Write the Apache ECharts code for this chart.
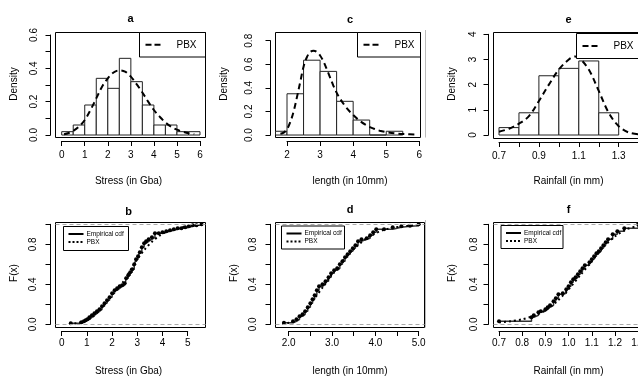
<!DOCTYPE html>
<html><head><meta charset="utf-8">
<script src="https://cdn.jsdelivr.net/npm/echarts@6/dist/echarts.min.js"></script>
<style>html,body{margin:0;padding:0;background:#fff}#c{width:638px;height:379px}</style>
</head><body><div id="c"></div>
<script>
// ---------------- data ----------------
// panel a : Stress histogram + PBX density
const aBinEdges = [0,0.5,1,1.5,2,2.5,3,3.5,4,4.5,5,5.5,6];
const aDensity  = [0.02,0.06,0.18,0.34,0.28,0.46,0.32,0.18,0.06,0.06,0.02,0.02];
const aCurveX = [0.1,0.3,0.5,0.75,1.0,1.25,1.5,1.75,2.0,2.25,2.5,2.75,3.0,3.25,3.5,3.75,4.0,4.25,4.5,4.75,5.0,5.25,5.5,5.75];
const aCurveY = [0.004,0.012,0.025,0.05,0.09,0.15,0.22,0.29,0.34,0.375,0.388,0.38,0.35,0.305,0.255,0.2,0.15,0.11,0.075,0.05,0.032,0.02,0.011,0.006];
// panel c : length histogram + PBX density
const cBinEdges = [1.5,2,2.5,3,3.5,4,4.5,5,5.5];
const cDensity  = [0.032,0.35,0.635,0.54,0.286,0.127,0,0.032];
const cCurveX = [1.8,1.9,2.0,2.1,2.2,2.3,2.4,2.5,2.6,2.7,2.8,2.9,3.0,3.1,3.2,3.3,3.4,3.5,3.6,3.8,4.0,4.2,4.4,4.6,4.8,5.0,5.3,5.6,5.85];
const cCurveY = [0.01,0.02,0.05,0.11,0.2,0.32,0.45,0.58,0.66,0.705,0.715,0.705,0.675,0.625,0.56,0.49,0.42,0.36,0.31,0.23,0.17,0.12,0.083,0.056,0.037,0.025,0.013,0.007,0.004];
// panel e : Rainfall histogram + PBX density
const eBinEdges = [0.7,0.8,0.9,1.0,1.1,1.2,1.3];
const eDensity  = [0.294,0.882,2.353,2.647,2.941,0.882];
const eCurveX = [0.7,0.75,0.8,0.85,0.9,0.95,1.0,1.05,1.08,1.1,1.15,1.2,1.25,1.3,1.35,1.4];
const eCurveY = [0.13,0.25,0.45,0.75,1.35,2.0,2.6,3.0,3.12,3.08,2.6,1.75,0.88,0.35,0.1,0.03];
// panel b : Stress ECDF + PBX cdf
const bEcdfX = [0.36,0.78,0.88,0.95,1.02,1.1,1.2,1.3,1.4,1.5,1.6,1.7,1.8,1.9,2.0,2.1,2.2,2.3,2.4,2.5,2.56,2.64,2.72,2.8,2.88,2.95,3.03,3.1,3.18,3.27,3.35,3.45,3.58,3.7,3.85,4.0,4.15,4.3,4.45,4.6,4.75,4.9,5.05,5.2,5.35,5.55];
const bEcdfY = [0.01,0.02,0.03,0.04,0.05,0.07,0.09,0.11,0.13,0.15,0.18,0.21,0.24,0.27,0.31,0.34,0.36,0.38,0.39,0.41,0.46,0.49,0.52,0.55,0.6,0.65,0.68,0.72,0.77,0.81,0.83,0.85,0.87,0.91,0.91,0.92,0.93,0.94,0.95,0.96,0.96,0.97,0.98,0.99,0.99,1.0];
const bFitX = [0.3,0.6,0.9,1.2,1.5,1.8,2.1,2.4,2.7,3.0,3.3,3.6,3.9,4.2,4.5,4.8,5.1,5.4,5.6];
const bFitY = [0.005,0.012,0.03,0.07,0.14,0.23,0.32,0.41,0.53,0.65,0.75,0.83,0.89,0.93,0.955,0.972,0.984,0.992,0.995];
// panel d : length ECDF + PBX cdf
const dEcdfX = [1.89,2.1,2.18,2.25,2.32,2.38,2.44,2.5,2.55,2.6,2.65,2.7,2.78,2.85,2.92,2.98,3.05,3.12,3.18,3.24,3.3,3.36,3.42,3.48,3.54,3.6,3.68,3.8,3.88,3.95,4.02,4.2,4.4,4.6,4.8,5.0];
const dEcdfY = [0.016,0.03,0.05,0.08,0.1,0.13,0.17,0.21,0.25,0.29,0.34,0.38,0.4,0.43,0.47,0.51,0.54,0.56,0.6,0.63,0.67,0.7,0.73,0.76,0.79,0.83,0.85,0.86,0.89,0.92,0.95,0.95,0.97,0.98,0.985,1.0];
const dFitX = [1.85,2.0,2.2,2.4,2.6,2.8,3.0,3.2,3.4,3.6,3.8,4.0,4.2,4.4,4.6,4.8,5.0];
const dFitY = [0.005,0.015,0.05,0.14,0.26,0.38,0.5,0.61,0.71,0.79,0.86,0.91,0.945,0.965,0.978,0.987,0.992];
// panel f : Rainfall ECDF + PBX cdf
const fEcdfX = [0.7,0.84,0.85,0.87,0.88,0.9,0.91,0.92,0.935,0.945,0.956,0.975,0.99,1.0,1.01,1.02,1.03,1.04,1.05,1.06,1.07,1.09,1.1,1.11,1.12,1.13,1.14,1.15,1.16,1.17,1.19,1.21,1.24,1.3];
const fEcdfY = [0.03,0.07,0.09,0.12,0.13,0.15,0.17,0.19,0.23,0.26,0.3,0.31,0.35,0.38,0.42,0.45,0.47,0.5,0.53,0.56,0.59,0.62,0.65,0.68,0.71,0.73,0.76,0.79,0.82,0.85,0.9,0.93,0.96,1.0];
const fFitX = [0.7,0.75,0.8,0.85,0.9,0.95,1.0,1.05,1.1,1.15,1.2,1.25,1.3];
const fFitY = [0.02,0.03,0.05,0.085,0.14,0.23,0.35,0.49,0.63,0.77,0.88,0.95,0.985];

// tick label arrays
const aXLabelVals = [0,1,2,3,4,5,6];          const aXLabels = ['0','1','2','3','4','5','6'];
const aYLabelVals = [0,0.2,0.4,0.6];          const aYLabels = ['0.0','0.2','0.4','0.6'];
const cXLabelVals = [2,3,4,5,6];              const cXLabels = ['2','3','4','5','6'];
const cYLabelVals = [0,0.2,0.4,0.6,0.8];      const cYLabels = ['0.0','0.2','0.4','0.6','0.8'];
const eXLabelVals = [0.7,0.9,1.1,1.3];        const eXLabels = ['0.7','0.9','1.1','1.3'];
const eYLabelVals = [0,1,2,3,4];              const eYLabels = ['0','1','2','3','4'];
const bXLabelVals = [0,1,2,3,4,5];            const bXLabels = ['0','1','2','3','4','5'];
const dXLabelVals = [2,3,4,5];                const dXLabels = ['2.0','3.0','4.0','5.0'];
const fXLabelVals = [0.7,0.8,0.9,1.0,1.1,1.2,1.3]; const fXLabels = ['0.7','0.8','0.9','1.0','1.1','1.2','1.3'];
const cdfYLabelVals = [0,0.4,0.8];            const cdfYLabels = ['0.0','0.4','0.8'];

const titles = ['a','c','e','b','d','f'];
const xNames = ['Stress (in Gba)','length (in 10mm)','Rainfall (in mm)','Stress (in Gba)','length (in 10mm)','Rainfall (in mm)'];
const yNames = ['Density','Density','Density','F(x)','F(x)','F(x)'];
const legendFit = 'PBX';
const legendEmp = 'Empirical cdf';

// ---------------- layout ----------------
const FONT = '"Liberation Sans", Arial, Helvetica, sans-serif';
const zip = (xs, ys) => xs.map((x, i) => [x, ys[i]]);
const fmt = (vals, texts) => v => { const i = vals.findIndex(t => Math.abs(t - v) < 1e-6); return i >= 0 ? texts[i] : ''; };

const panels = [
  {kind:'hist', box:[55.5,32.5,205.5,137.5], xlim:[-0.269,6.239], ylim:[-0.015,0.615],
   xTick:[0,6,1], xLab:[aXLabelVals,aXLabels], yTick:[0,0.6,0.1], yLab:[aYLabelVals,aYLabels],
   xm:9.5, ym:11.5, tpos:[130.5,19], xnpos:[128.5,181], ynpos:[14.5,84],
   edges:aBinEdges, dens:aDensity, cx:aCurveX, cy:aCurveY, leg:[139.5,32.5,66,24.5]},
  {kind:'hist', box:[275.5,32.5,420.5,137.5], xlim:[1.652,6.036], ylim:[-0.021,0.870],
   xTick:[2,6,1], xLab:[cXLabelVals,cXLabels], yTick:[0,0.8,0.2], yLab:[cYLabelVals,cYLabels],
   xm:9.5, ym:16, tpos:[350,20], xnpos:[350,181], ynpos:[224.5,84],
   edges:cBinEdges, dens:cDensity, cx:cCurveX, cy:cCurveY, leg:[357.5,32.5,63,24.5]},
  {kind:'hist', box:[493.5,32.5,643.5,138.5], xlim:[0.6724,1.4243], ylim:[-0.139,4.0715],
   xTick:[0.7,1.4,0.1], xLab:[eXLabelVals,eXLabels], yTick:[0,4,1], yLab:[eYLabelVals,eYLabels],
   xm:9, ym:10, tpos:[568.5,20], xnpos:[568.5,181], ynpos:[452,84],
   edges:eBinEdges, dens:eDensity, cx:eCurveX, cy:eCurveY, leg:[576.5,33.5,67,25]},
  {kind:'cdf', box:[55.5,222.5,205.5,327.5], xlim:[-0.246,5.706], ylim:[-0.032,1.018],
   xTick:[0,5,1], xLab:[bXLabelVals,bXLabels], yTick:[0,1,0.2], yLab:[cdfYLabelVals,cdfYLabels],
   xm:7.5, ym:12.5, tpos:[128.5,211.5], xnpos:[128.5,371.5], ynpos:[14.5,273],
   ex:bEcdfX, ey:bEcdfY, fx:bFitX, fy:bFitY, leg:[63.5,226.5,65,24]},
  {kind:'cdf', box:[275.5,222.5,424.5,327.5], xlim:[1.6954,5.1339], ylim:[-0.032,1.018],
   xTick:[2,5,0.5], xLab:[dXLabelVals,dXLabels], yTick:[0,1,0.2], yLab:[cdfYLabelVals,cdfYLabels],
   xm:7.5, ym:12, tpos:[350,209.5], xnpos:[350,371.5], ynpos:[234,273],
   ex:dEcdfX, ey:dEcdfY, fx:dFitX, fy:dFitY, leg:[281.5,226,63,23]},
  {kind:'cdf', box:[493.5,222.5,643.5,327.5], xlim:[0.6763,1.3228], ylim:[-0.032,1.018],
   xTick:[0.7,1.3,0.1], xLab:[fXLabelVals,fXLabels], yTick:[0,1,0.2], yLab:[cdfYLabelVals,cdfYLabels],
   xm:7.5, ym:9, tpos:[568.5,209.5], xnpos:[568.5,371.5], ynpos:[452.5,273],
   ex:fEcdfX, ey:fEcdfY, fx:fFitX, fy:fFitY, leg:[501,225.5,62,23]}
];

const grids = [], xAxes = [], yAxes = [], series = [], graphics = [];
const txt = (x, y, text, size, opts) => Object.assign({type:'text', x, y, z:100,
  style:{text, fill:'#000', font:(opts && opts.bold ? 'bold ' : '') + size + 'px ' + FONT, align:'center', verticalAlign:'middle'}}, opts && opts.extra);

panels.forEach((p, k) => {
  const [L, T, R, B] = p.box;
  const gi = grids.length;
  grids.push({left:L, top:T, width:R - L, height:B - T, show:true, borderColor:'#000', borderWidth:1,
              backgroundColor:'rgba(0,0,0,0)', containLabel:false, outerBoundsMode:'none'});
  xAxes.push({gridIndex:gi, type:'value', min:p.xlim[0], max:p.xlim[1], show:false});
  yAxes.push({gridIndex:gi, type:'value', min:p.ylim[0], max:p.ylim[1], show:false});

  // R-style axes (line from first to last tick, set off from the box)
  const sx = (R - L) / (p.xlim[1] - p.xlim[0]), px = v => L + (v - p.xlim[0]) * sx;
  const sy = (B - T) / (p.ylim[1] - p.ylim[0]), py = v => B - (v - p.ylim[0]) * sy;
  const x0 = px(p.xTick[0]), x1 = px(p.xTick[1]), y0 = py(p.yTick[0]), y1 = py(p.yTick[1]);
  const ai = grids.length;
  grids.push({left:x0, top:y1, width:x1 - x0, height:y0 - y1, show:false, containLabel:false, outerBoundsMode:'none'});
  const common = {axisLine:{show:true, onZero:false, lineStyle:{color:'#000', width:1}},
                  axisTick:{show:true, inside:false, length:5, lineStyle:{color:'#000', width:1}},
                  splitLine:{show:false}, splitArea:{show:false}};
  xAxes.push(Object.assign({gridIndex:ai, type:'value', min:p.xTick[0], max:p.xTick[1], interval:p.xTick[2],
    position:'bottom', offset:(B + 3.5) - y0,
    axisLabel:{show:true, margin:p.xm, fontSize:10, color:'#000', fontFamily:FONT, formatter:fmt(p.xLab[0], p.xLab[1])}}, common));
  yAxes.push(Object.assign({gridIndex:ai, type:'value', min:p.yTick[0], max:p.yTick[1], interval:p.yTick[2],
    position:'left', offset:x0 - (L - 5),
    axisLabel:{show:true, rotate:90, margin:p.ym, fontSize:10, color:'#000', fontFamily:FONT, formatter:fmt(p.yLab[0], p.yLab[1])}}, common));

  if (p.kind === 'hist') {
    series.push({type:'custom', xAxisIndex:gi, yAxisIndex:gi, silent:true, z:2,
      data:p.dens.map((d, i) => [p.edges[i], p.edges[i + 1], d]),
      encode:{x:[0, 1], y:2},
      renderItem:(params, api) => {
        const a = api.coord([api.value(0), api.value(2)]);
        const b = api.coord([api.value(1), 0]);
        const cs = params.coordSys;
        const xa = Math.max(a[0], cs.x), xb = Math.min(b[0], cs.x + cs.width);
        if (xb <= xa) return null;
        return {type:'rect', shape:{x:xa, y:a[1], width:xb - xa, height:b[1] - a[1]},
                style:{fill:'#fff', stroke:'#222', lineWidth:1}};
      }});
    series.push({type:'line', xAxisIndex:gi, yAxisIndex:gi, silent:true, z:3, data:zip(p.cx, p.cy),
      smooth:0.35, symbol:'none', lineStyle:{color:'#000', width:2, type:[6, 4]}});
    const [lx, ly, lw, lh] = p.leg;
    graphics.push({type:'rect', z:99, shape:{x:lx, y:ly, width:lw, height:lh}, style:{fill:'#fff', stroke:'#000', lineWidth:1}});
    graphics.push({type:'line', z:100, shape:{x1:lx + 6, y1:ly + lh / 2, x2:lx + 24, y2:ly + lh / 2},
      style:{stroke:'#000', lineWidth:2, lineDash:[6, 3]}});
    graphics.push(Object.assign(txt(lx + 37, ly + lh / 2, legendFit, 10), {}));
    graphics[graphics.length - 1].style.align = 'left';
  } else {
    series.push({type:'line', xAxisIndex:gi, yAxisIndex:gi, silent:true, z:3, data:zip(p.ex, p.ey),
      step:'end', symbol:'circle', symbolSize:4, showSymbol:true, itemStyle:{color:'#000'},
      lineStyle:{color:'#333', width:1.5},
      markLine:{silent:true, symbol:['none', 'none'], label:{show:false}, animation:false,
        lineStyle:{color:'#aaa', width:1, type:[4, 3]}, data:[{yAxis:0}, {yAxis:1}]}});
    series.push({type:'line', xAxisIndex:gi, yAxisIndex:gi, silent:true, z:4, data:zip(p.fx, p.fy),
      smooth:0.3, symbol:'none', lineStyle:{color:'#000', width:2, type:[2, 3]}});
    const [lx, ly, lw, lh] = p.leg;
    graphics.push({type:'rect', z:99, shape:{x:lx, y:ly, width:lw, height:lh}, style:{fill:'#fff', stroke:'#000', lineWidth:1}});
    graphics.push({type:'line', z:100, shape:{x1:lx + 5, y1:ly + 7.5, x2:lx + 20, y2:ly + 7.5}, style:{stroke:'#000', lineWidth:2}});
    graphics.push({type:'line', z:100, shape:{x1:lx + 5, y1:ly + 15.5, x2:lx + 20, y2:ly + 15.5}, style:{stroke:'#000', lineWidth:2, lineDash:[2, 2]}});
    const t1 = txt(lx + 23, ly + 7.5, legendEmp, 6.5); t1.style.align = 'left'; graphics.push(t1);
    const t2 = txt(lx + 23, ly + 15.5, legendFit, 6.5); t2.style.align = 'left'; graphics.push(t2);
  }

  graphics.push(txt(p.tpos[0], p.tpos[1], titles[k], 11, {bold:true}));
  graphics.push(txt(p.xnpos[0], p.xnpos[1], xNames[k], 10));
  graphics.push(txt(p.ynpos[0], p.ynpos[1], yNames[k], 10, {extra:{rotation:Math.PI / 2}}));
});

// faint panel separator seen in the reference
graphics.push({type:'line', z:1, shape:{x1:425.5, y1:30, x2:425.5, y2:137.5}, style:{stroke:'#bbb', lineWidth:1}});
graphics.push({type:'line', z:1, shape:{x1:425.5, y1:220, x2:425.5, y2:327.5}, style:{stroke:'#bbb', lineWidth:1}});

const chart = echarts.init(document.getElementById('c'), null, {renderer:'canvas', width:638, height:379});
chart.setOption({
  animation:false,
  backgroundColor:'#fff',
  textStyle:{fontFamily:FONT},
  grid:grids, xAxis:xAxes, yAxis:yAxes, series:series, graphic:graphics
});
</script></body></html>
